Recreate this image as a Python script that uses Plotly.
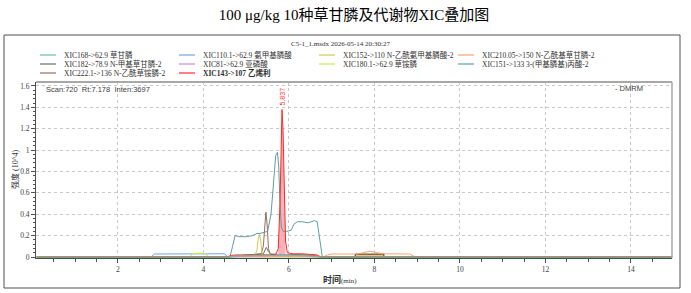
import plotly.graph_objects as go

# ---------------- data (intensity in 10^4) ----------------
x_168 = [0.1, 4.6, 4.8, 5.0, 5.3, 5.6, 5.9, 6.2, 6.5, 6.7, 15.0]
y_168 = [0.0, 0.0, 0.012, 0.01, 0.015, 0.012, 0.015, 0.012, 0.01, 0.0, 0.0]

x_182 = [0.1, 4.6, 4.9, 5.2, 5.4, 5.47, 5.52, 5.58, 5.8, 6.1, 6.4, 6.7, 15.0]
y_182 = [0.0, 0.0, 0.015, 0.02, 0.03, 0.09, 0.05, 0.025, 0.02, 0.02, 0.018, 0.0, 0.0]

x_222 = [0.1, 4.6, 4.8, 5.0, 5.2, 5.35, 5.40, 5.43, 5.46, 5.49, 5.52, 5.56, 5.7, 6.0, 6.3, 6.6, 6.75, 15.0]
y_222 = [0.0, 0.0, 0.01, 0.015, 0.02, 0.03, 0.1, 0.3, 0.42, 0.3, 0.08, 0.03, 0.02, 0.025, 0.02, 0.015, 0.0, 0.0]

x_110 = [0.1, 2.77, 2.85, 3.2, 3.6, 4.0, 4.4, 4.5, 4.56, 6.8, 6.85, 15.0]
y_110 = [0.0, 0.0, 0.028, 0.03, 0.028, 0.03, 0.03, 0.03, 0.003, 0.003, 0.0, 0.0]

x_81 = [0.1, 4.6, 5.0, 5.5, 5.8, 6.0, 6.3, 6.7, 15.0]
y_81 = [0.0, 0.0, 0.01, 0.012, 0.025, 0.02, 0.015, 0.0, 0.0]

x_143 = [0.1, 4.55, 4.65, 4.8, 5.0, 5.2, 5.4, 5.6, 5.7, 5.75, 5.79, 5.82, 5.837, 5.86, 5.89, 5.92, 5.96, 6.1, 6.3, 6.5, 6.65, 6.75, 15.0]
y_143 = [0.0, 0.0, 0.015, 0.02, 0.018, 0.02, 0.025, 0.02, 0.03, 0.08, 0.5, 1.1, 1.38, 1.2, 0.6, 0.15, 0.04, 0.03, 0.03, 0.025, 0.02, 0.0, 0.0]

x_152 = [0.1, 4.6, 5.0, 5.2, 5.25, 5.28, 5.31, 5.34, 5.37, 5.45, 6.0, 6.7, 15.0]
y_152 = [0.0, 0.0, 0.01, 0.015, 0.06, 0.17, 0.21, 0.15, 0.03, 0.015, 0.01, 0.0, 0.0]

x_180 = [0.1, 3.68, 3.75, 3.85, 3.95, 4.05, 4.12, 4.6, 4.9, 5.3, 5.8, 6.3, 6.7, 15.0]
y_180 = [0.0, 0.0, 0.032, 0.035, 0.036, 0.03, 0.0, 0.0, 0.012, 0.01, 0.012, 0.01, 0.0, 0.0]

x_210 = [0.1, 4.1, 4.2, 4.5, 4.6, 6.8, 6.9, 7.0, 7.6, 7.8, 7.9, 8.0, 8.2, 8.7, 8.83, 8.95, 15.0]
y_210 = [0.0, 0.0, 0.005, 0.005, 0.0, 0.0, 0.02, 0.028, 0.028, 0.045, 0.055, 0.045, 0.03, 0.028, 0.028, 0.0, 0.0]

x_151 = [0.1, 4.62, 4.68, 4.74, 4.85, 5.0, 5.15, 5.25, 5.32, 5.4, 5.5, 5.58, 5.64, 5.69, 5.73, 5.76, 5.79, 5.82, 5.86, 5.95, 6.05, 6.12, 6.2, 6.3, 6.45, 6.6, 6.66, 6.72, 6.78, 15.0]
y_151 = [0.0, 0.0, 0.1, 0.2, 0.19, 0.19, 0.2, 0.22, 0.22, 0.23, 0.24, 0.4, 0.7, 0.95, 0.98, 0.85, 0.5, 0.28, 0.24, 0.24, 0.25, 0.31, 0.33, 0.33, 0.32, 0.34, 0.33, 0.15, 0.0, 0.0]

# integration windows
int_x = [7.55, 7.55, 8.22, 8.22]
int_y = [0.0, 0.027, 0.027, 0.0]
red_int_range = [5.74, 5.95]

peak_rt = 5.837
peak_val = 1.38

x_ticks = [2, 4, 6, 8, 10, 12, 14]
y_ticks = [0, 0.2, 0.4, 0.6, 0.8, 1.0, 1.2, 1.4, 1.6]
y_tick_text = ["0", "0.2", "0.4", "0.6", "0.8", "1", "1.2", "1.4", "1.6"]

series = [
    ("XIC168->62.9 草甘膦", "#62c49e", x_168, y_168, False),
    ("XIC182->78.9 N-甲基草甘膦-2", "#6e6e6e", x_182, y_182, False),
    ("XIC222.1->136 N-乙酰草铵膦-2", "#9a6e62", x_222, y_222, False),
    ("XIC110.1->62.9 氨甲基膦酸", "#6aa6e6", x_110, y_110, False),
    ("XIC81->62.9 亚磷酸", "#c98ccf", x_81, y_81, False),
    ("XIC143->107 乙烯利", "#ff2a2a", x_143, y_143, True),
    ("XIC152->110 N-乙酰氨甲基膦酸-2", "#d2c85a", x_152, y_152, False),
    ("XIC180.1->62.9 草铵膦", "#bff04a", x_180, y_180, False),
    ("XIC210.05->150 N-乙酰基草甘膦-2", "#ffa070", x_210, y_210, False),
    ("XIC151->133 3-(甲基膦基)丙酸-2", "#5f9e9c", x_151, y_151, False),
]
legend_cols = [[0, 1, 2], [3, 4, 5], [6, 7], [8, 9]]

# ---------------- layout helpers ----------------
W, H = 691, 293
L, R, T, B = 36, 19, 82, 35
PW, PH = W - L - R, H - T - B


def px(x):
    return (x - L) / PW


def py(y):
    return (H - B - y) / PH


SERIF = "Liberation Serif, Times New Roman, Noto Sans CJK SC, serif"
SANS = "Liberation Sans, Arial, Noto Sans CJK SC, sans-serif"

fig = go.Figure()

# integration fills
fig.add_trace(go.Scatter(x=int_x, y=int_y, mode="lines", fill="toself",
                         fillcolor="#f8c27a", line=dict(color="#303030", width=1),
                         showlegend=False, hoverinfo="skip"))
rf = [(a, b) for a, b in zip(x_143, y_143) if red_int_range[0] <= a <= red_int_range[1]]
fig.add_trace(go.Scatter(x=[p[0] for p in rf], y=[p[1] for p in rf], mode="lines",
                         fill="tozeroy", fillcolor="rgba(250,150,160,0.75)",
                         line=dict(width=0), showlegend=False, hoverinfo="skip"))

draw_order = [1, 2, 3, 6, 7, 8, 4, 9, 5, 0]
for i in draw_order:
    name, col, xs, ys, _ = series[i]
    fig.add_trace(go.Scatter(x=xs, y=ys, mode="lines", name=name,
                             line=dict(color=col, width=1), showlegend=False))

shapes = []
annotations = []

# outer frame
shapes.append(dict(type="rect", xref="paper", yref="paper",
                   x0=px(4), x1=px(680), y0=py(288), y1=py(35),
                   line=dict(color="#505050", width=1)))
# plot frame (top / right)
shapes.append(dict(type="line", xref="paper", yref="paper", x0=0, x1=1, y0=1, y1=1,
                   line=dict(color="#a8a8a8", width=2)))
shapes.append(dict(type="line", xref="paper", yref="paper", x0=1, x1=1, y0=0, y1=1,
                   line=dict(color="#a8a8a8", width=1.5)))

# manual legend
col_x = [40, 179, 319, 458]
row_y = [55, 64, 73]
for c, idxs in enumerate(legend_cols):
    for r, i in enumerate(idxs):
        name, col, _, _, bold = series[i]
        shapes.append(dict(type="line", xref="paper", yref="paper",
                           x0=px(col_x[c]), x1=px(col_x[c] + 16),
                           y0=py(row_y[r]), y1=py(row_y[r]),
                           line=dict(color=col, width=1.2)))
        annotations.append(dict(xref="paper", yref="paper", x=px(col_x[c] + 22), y=py(row_y[r]),
                                xanchor="left", yanchor="middle", showarrow=False,
                                text=("<b>%s</b>" % name) if bold else name,
                                font=dict(family=SERIF, size=7.5, color="#303030")))

annotations += [
    dict(xref="paper", yref="paper", x=px(340), y=py(44), xanchor="center", yanchor="middle",
         showarrow=False, text="C5-1_1.msdx 2026-05-14 20:30:27",
         font=dict(family=SERIF, size=7, color="#303030")),
    dict(xref="paper", yref="paper", x=px(44), y=py(89), xanchor="left", yanchor="middle",
         showarrow=False, text="Scan:720  Rt:7.178  Inten:3697",
         font=dict(family=SANS, size=7.5, color="#404040")),
    dict(xref="paper", yref="paper", x=px(645), y=py(88), xanchor="right", yanchor="middle",
         showarrow=False, text="- DMRM",
         font=dict(family=SANS, size=7.5, color="#404040")),
    dict(x=peak_rt, y=peak_val, xref="x", yref="y", xanchor="center", yanchor="bottom",
         showarrow=False, text="%.3f" % peak_rt, textangle=-90, yshift=2,
         font=dict(family=SANS, size=7, color="#ff3030")),
    dict(xref="paper", yref="paper", x=px(15), y=py(170), xanchor="center", yanchor="middle",
         showarrow=False, text="强度 (10^4)", textangle=-90,
         font=dict(family=SERIF, size=8, color="#303030")),
    dict(xref="paper", yref="paper", x=px(340), y=py(279), xanchor="center", yanchor="middle",
         showarrow=False, text="<b>时间</b><span style='font-size:7px'>(min)</span>",
         font=dict(family=SERIF, size=9, color="#303030")),
]

fig.update_layout(
    width=W, height=H,
    margin=dict(l=L, r=R, t=T, b=B, pad=0),
    paper_bgcolor="white", plot_bgcolor="white",
    title=dict(text="100 μg/kg 10种草甘膦及代谢物XIC叠加图", x=0.5, xanchor="center",
               y=1 - 15 / H, yanchor="middle", xref="paper",
               font=dict(family=SERIF, size=15, color="#000000")),
    shapes=shapes, annotations=annotations, showlegend=False,
)

fig.update_xaxes(range=[0.082, 14.96], tickmode="array", tickvals=x_ticks,
                 ticks="outside", ticklen=4, tickcolor="#505050",
                 tickfont=dict(family=SERIF, size=7.5, color="#404040"),
                 showgrid=True, gridcolor="#c8c8c8", griddash="dot", gridwidth=1,
                 showline=True, linecolor="#2f5a46", linewidth=1, zeroline=False,
                 minor=dict(dtick=0.5, ticks="outside", ticklen=3, tickcolor="#505050", showgrid=False))
fig.update_yaxes(range=[-0.0094, 1.637], tickmode="array", tickvals=y_ticks, ticktext=y_tick_text,
                 ticks="outside", ticklen=4, tickcolor="#505050",
                 tickfont=dict(family=SERIF, size=7.5, color="#404040"),
                 showgrid=True, gridcolor="#c8c8c8", griddash="dot", gridwidth=1,
                 showline=True, linecolor="#505050", linewidth=1, zeroline=False,
                 minor=dict(tickvals=[v / 100 for v in range(0, 164, 4)], ticks="outside",
                            ticklen=2, tickcolor="#505050", showgrid=False))

fig.write_html("out.html")
